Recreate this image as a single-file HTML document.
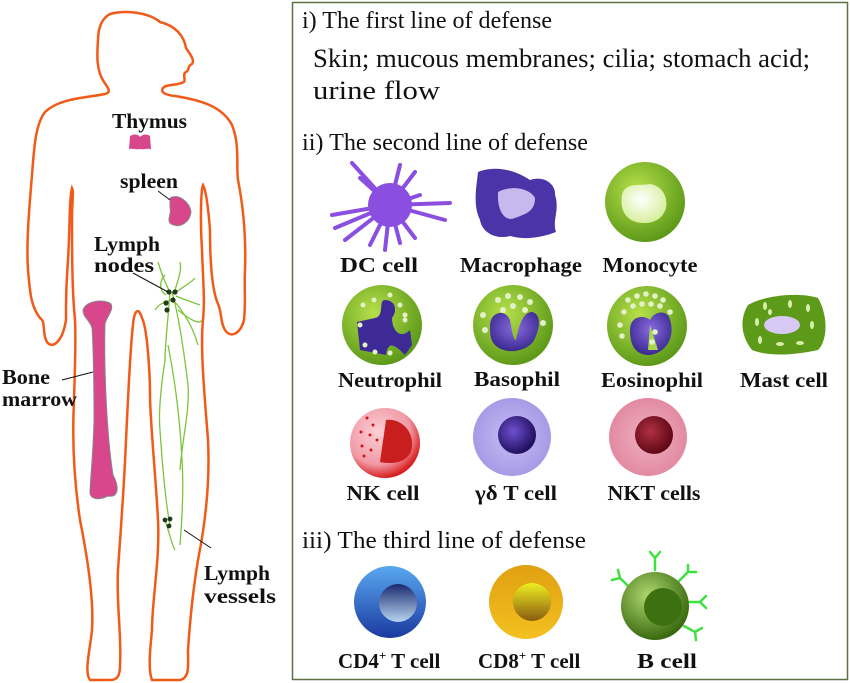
<!DOCTYPE html>
<html><head><meta charset="utf-8"><style>
html,body{margin:0;padding:0;background:#fff;}
svg{display:block;}
.t{font-family:"Liberation Serif",serif;font-size:24px;fill:#111;}
.b{font-family:"Liberation Serif",serif;font-size:21px;font-weight:bold;fill:#111;text-anchor:middle;}
.l{font-family:"Liberation Serif",serif;font-size:21px;font-weight:bold;fill:#111;}
</style></head><body>
<svg width="850" height="683" viewBox="0 0 850 683" xmlns="http://www.w3.org/2000/svg">
<defs>
<radialGradient id="gg" cx="40%" cy="35%" r="65%"><stop offset="0" stop-color="#b6e04a"/><stop offset="1" stop-color="#5e9a1a"/></radialGradient>
<radialGradient id="mo" cx="45%" cy="40%" r="60%"><stop offset="0" stop-color="#ffffff"/><stop offset="1" stop-color="#d6ef9c"/></radialGradient>
<radialGradient id="pn" cx="50%" cy="40%" r="60%"><stop offset="0" stop-color="#8a6ae0"/><stop offset="1" stop-color="#3a2a90"/></radialGradient>
<radialGradient id="lav" cx="50%" cy="50%" r="50%"><stop offset="0" stop-color="#c7bdf4"/><stop offset="1" stop-color="#a79ae6"/></radialGradient>
<radialGradient id="pk" cx="50%" cy="50%" r="50%"><stop offset="0" stop-color="#efb1c0"/><stop offset="1" stop-color="#e28aa2"/></radialGradient>
<radialGradient id="nk" cx="40%" cy="35%" r="65%"><stop offset="0" stop-color="#fbd0d4"/><stop offset="0.7" stop-color="#f19aa6"/><stop offset="1" stop-color="#d82020"/></radialGradient>
<linearGradient id="bl" x1="0" y1="0" x2="0" y2="1"><stop offset="0" stop-color="#5aa8f0"/><stop offset="1" stop-color="#1a3aa0"/></linearGradient>
<linearGradient id="bln" x1="0" y1="0" x2="0" y2="1"><stop offset="0" stop-color="#1a2a70"/><stop offset="1" stop-color="#b8d4f0"/></linearGradient>
<linearGradient id="or" x1="0" y1="0" x2="0" y2="1"><stop offset="0" stop-color="#e0a010"/><stop offset="1" stop-color="#f4c020"/></linearGradient>
<linearGradient id="orn" x1="0" y1="0" x2="0" y2="1"><stop offset="0" stop-color="#eef020"/><stop offset="1" stop-color="#8a5a10"/></linearGradient>
<radialGradient id="bc" cx="40%" cy="35%" r="65%"><stop offset="0" stop-color="#b0d870"/><stop offset="1" stop-color="#3a6a10"/></radialGradient>
<radialGradient id="dk" cx="40%" cy="40%" r="60%"><stop offset="0" stop-color="#7050d0"/><stop offset="1" stop-color="#201060"/></radialGradient>
<radialGradient id="dr" cx="40%" cy="40%" r="60%"><stop offset="0" stop-color="#b03040"/><stop offset="1" stop-color="#600818"/></radialGradient>
</defs>

<path d="M110,14 C125,10 148,12 160,22 C176,26 184,36 186,48 C190,54 195,60 192,64 C187,66 190,70 186,72 C182,74 186,80 184,82 C176,86 166,84 163,88 C160,92 165,95 175,96 C200,100 222,106 232,125 C240,145 236,165 238,180 C244,210 246,240 245,270 C244,290 246,300 244,320 C240,335 230,338 225,330 C220,322 222,312 218,304 C212,290 210,260 210,230 C208,205 206,190 203,185 C201,190 200,220 202,250 C203,280 205,300 203,320 C200,350 205,400 208,440 C210,480 206,520 198,560 C193,590 190,620 188,650 C188,665 190,678 180,680 L152,680 C148,670 150,650 152,630 C152,600 160,560 158,520 C156,480 150,420 150,395 C150,380 148,330 142,318 C138,305 134,312 133,325 C130,350 128,400 126,440 C124,490 120,540 118,570 C116,600 122,640 120,665 C120,675 118,680 110,680 L90,680 C84,672 90,650 92,630 C94,600 88,560 80,520 C74,480 72,440 74,400 C75,370 76,340 75,320 C72,290 72,250 72,220 C72,200 74,192 72,188 C69,200 70,230 68,260 C66,290 66,300 66,320 C62,345 50,350 46,340 C42,330 46,322 40,318 C30,305 30,290 28,270 C26,240 30,200 32,175 C34,150 35,125 45,112 C60,98 85,98 105,94 C112,92 108,88 104,82 C96,70 97,55 98,40 C98,28 102,18 110,14 Z" fill="none" stroke="#f25a1a" stroke-width="2.5"/>

<path d="M130,136 C135,133 139,135 140,137 C142,135 146,133 150,136 L151,149 C146,148 144,150 140,149 C136,150 133,148 129,149 Z" fill="#d8468c"/>
<path d="M170,198 C178,193 190,202 191,212 C190,222 180,229 171,224 C166,220 172,214 170,208 Z" fill="#d8468c" stroke="#888" stroke-width="1"/>
<path d="M83,310 C86,300 105,299 111,304 C114,310 107,316 105,324 C104,360 106,430 113,475 C120,488 118,498 108,496 C100,500 92,500 90,494 C90,480 93,460 94,420 C94,380 93,340 92,328 C90,320 83,318 83,310 Z" fill="#d8468c" stroke="#888" stroke-width="1"/>
<g stroke="#7cc43c" stroke-width="1.3" fill="none">
<path d="M158,262 C162,275 166,285 170,292 C168,320 165,345 165,360 C162,380 158,410 160,430 C162,460 165,500 170,525"/>
<path d="M172,292 C180,320 185,360 188,385 C190,410 182,440 180,470"/>
<path d="M175,290 C178,280 182,270 180,262"/>
<path d="M176,292 C186,285 192,282 195,278"/>
<path d="M176,296 C185,300 192,302 200,305"/>
<path d="M172,300 C160,303 158,306 155,310"/>
<path d="M175,302 C190,320 195,335 198,345"/>
<path d="M168,345 C175,380 180,420 182,460 C184,490 182,520 180,545"/>
<path d="M166,295 C158,290 160,280 165,275"/>
<path d="M178,310 C190,320 200,325 202,320"/>
<path d="M165,520 C170,535 172,545 175,550"/>
</g>
<g fill="#233a1a"><circle cx="169" cy="292" r="2.6"/><circle cx="175" cy="292" r="2.6"/><circle cx="173" cy="300" r="2.6"/><circle cx="166" cy="303" r="2.6"/><circle cx="167" cy="310" r="2.6"/><circle cx="165" cy="520" r="2.4"/><circle cx="170" cy="519" r="2.4"/><circle cx="169" cy="526" r="2.4"/></g>
<g stroke="#111" stroke-width="1"><line x1="158" y1="191" x2="170" y2="200"/><line x1="133" y1="273" x2="168" y2="292"/><line x1="62" y1="380" x2="93" y2="372"/><line x1="184" y1="530" x2="211" y2="548"/></g>
<text class="l" x="112" y="128" textLength="75" lengthAdjust="spacingAndGlyphs">Thymus</text>
<text class="l" x="120" y="188" textLength="58" lengthAdjust="spacingAndGlyphs">spleen</text>
<text class="l" x="94" y="251" textLength="66" lengthAdjust="spacingAndGlyphs">Lymph</text>
<text class="l" x="94" y="272" textLength="60" lengthAdjust="spacingAndGlyphs">nodes</text>
<text class="l" x="2" y="384" textLength="48" lengthAdjust="spacingAndGlyphs">Bone</text>
<text class="l" x="2" y="406" textLength="75" lengthAdjust="spacingAndGlyphs">marrow</text>
<text class="l" x="204" y="580" textLength="66" lengthAdjust="spacingAndGlyphs">Lymph</text>
<text class="l" x="204" y="603" textLength="72" lengthAdjust="spacingAndGlyphs">vessels</text>

<rect x="292.5" y="2.5" width="555" height="677" fill="none" stroke="#5f7044" stroke-width="1.5"/>
<text class="t" x="302" y="28" textLength="250" lengthAdjust="spacingAndGlyphs">i) The first line of defense</text>
<text class="t" x="313" y="67" style="font-size:26px" textLength="497" lengthAdjust="spacingAndGlyphs">Skin; mucous membranes; cilia; stomach acid;</text>
<text class="t" x="313" y="99" style="font-size:26px" textLength="127" lengthAdjust="spacingAndGlyphs">urine flow</text>
<text class="t" x="302" y="150" textLength="286" lengthAdjust="spacingAndGlyphs">ii) The second line of defense</text>
<text class="t" x="302" y="548" textLength="284" lengthAdjust="spacingAndGlyphs">iii) The third line of defense</text>

<g fill="#8a4fe0" stroke="#8a4fe0" stroke-width="4" stroke-linecap="round">
<circle cx="390" cy="205" r="22" stroke="none"/>
<path d="M390,205 L352,163 M390,205 L400,165 M390,205 L415,172 M390,205 L450,203 M390,205 L445,220 M390,205 L332,215 M390,205 L335,228 M390,205 L345,240 M390,205 L370,245 M390,205 L385,250 M390,205 L400,243 M390,205 L415,238 M390,205 L360,178 M390,205 L420,195" fill="none"/>
</g>
<path d="M478,172 C495,165 515,170 530,180 C545,175 556,185 555,195 C560,210 552,220 556,232 C540,238 525,240 510,236 C495,240 482,232 480,220 C473,205 476,190 478,172 Z" fill="#4b34a8"/>
<path d="M498,192 C510,185 530,188 535,198 C535,212 525,214 515,218 C505,222 497,212 498,192 Z" fill="#c9b8ee"/>
<circle cx="645" cy="202" r="40" fill="url(#gg)"/>
<path d="M622,195 C625,182 640,186 650,184 C662,186 668,196 666,208 C662,222 648,225 636,222 C624,218 620,208 622,195 Z" fill="url(#mo)"/>
<text class="b" x="379" y="272" textLength="78" lengthAdjust="spacingAndGlyphs">DC cell</text>
<text class="b" x="521" y="272" textLength="122" lengthAdjust="spacingAndGlyphs">Macrophage</text>
<text class="b" x="650" y="272" textLength="95" lengthAdjust="spacingAndGlyphs">Monocyte</text>

<circle cx="382" cy="325" r="40" fill="url(#gg)"/>
<path d="M357,322 L375,318 C385,316 378,300 385,300 C395,300 398,310 392,318 C392,330 400,340 410,330 L412,345 L405,355 C395,345 388,340 386,355 L360,350 Z" fill="#3e2a96"/>
<g fill="#e4f0c8"><circle cx="363" cy="305" r="2.5"/><circle cx="374" cy="300" r="2.5"/><circle cx="390" cy="295" r="2.5"/><circle cx="400" cy="305" r="2.5"/><circle cx="360" cy="325" r="2.5"/><circle cx="405" cy="320" r="2.5"/><circle cx="365" cy="345" r="2.5"/><circle cx="375" cy="352" r="2.5"/><circle cx="390" cy="353" r="2.5"/><circle cx="405" cy="315" r="2.5"/></g>
<circle cx="513" cy="325" r="40" fill="url(#gg)"/>
<path d="M490,326 C490,312 505,308 510,320 C512,330 513,340 516,340 C518,330 522,312 532,312 C542,314 540,330 533,342 C525,352 505,355 495,345 C490,340 490,333 490,326 Z" fill="url(#pn)"/>
<g fill="#e4f0c8"><circle cx="498" cy="300" r="3"/><circle cx="508" cy="296" r="3"/><circle cx="520" cy="297" r="3"/><circle cx="530" cy="302" r="3"/><circle cx="513" cy="306" r="3"/><circle cx="503" cy="310" r="3"/><circle cx="525" cy="310" r="3"/><circle cx="483" cy="315" r="3"/><circle cx="543" cy="323" r="3"/><circle cx="485" cy="330" r="3"/></g>
<circle cx="647" cy="326" r="40" fill="url(#gg)"/>
<path d="M630,330 C630,315 645,315 650,320 C655,310 668,310 670,320 C675,335 668,352 650,355 C635,355 630,345 630,330 Z" fill="url(#pn)"/>
<path d="M650,325 L658,350 L648,350 Z" fill="#a8d84a"/>
<g fill="#e4f0c8"><circle cx="628" cy="300" r="2.8"/><circle cx="637" cy="296" r="2.8"/><circle cx="646" cy="294" r="2.8"/><circle cx="655" cy="296" r="2.8"/><circle cx="663" cy="300" r="2.8"/><circle cx="633" cy="306" r="2.8"/><circle cx="642" cy="304" r="2.8"/><circle cx="651" cy="304" r="2.8"/><circle cx="660" cy="306" r="2.8"/><circle cx="624" cy="312" r="2.8"/><circle cx="670" cy="312" r="2.8"/><circle cx="620" cy="325" r="2.8"/><circle cx="622" cy="336" r="2.8"/><circle cx="655" cy="332" r="2.8"/><circle cx="652" cy="342" r="2.8"/></g>
<path d="M748,305 C765,295 800,292 818,298 C828,315 828,340 818,350 C795,355 770,357 752,350 C740,335 740,318 748,305 Z" fill="#5e9a1a"/>
<ellipse cx="782" cy="325" rx="18" ry="9" fill="#d8c8f4"/>
<g fill="#d6eeaa"><ellipse cx="765" cy="306" rx="2" ry="4"/><ellipse cx="790" cy="304" rx="2" ry="4"/><ellipse cx="808" cy="308" rx="2" ry="4"/><ellipse cx="757" cy="322" rx="2" ry="4"/><ellipse cx="812" cy="325" rx="2" ry="4"/><ellipse cx="760" cy="340" rx="2" ry="4"/><ellipse cx="780" cy="344" rx="4" ry="2"/><ellipse cx="800" cy="343" rx="4" ry="2"/><ellipse cx="770" cy="312" rx="2" ry="3"/></g>
<text class="b" x="390" y="387" textLength="104" lengthAdjust="spacingAndGlyphs">Neutrophil</text>
<text class="b" x="517" y="386" textLength="86" lengthAdjust="spacingAndGlyphs">Basophil</text>
<text class="b" x="652" y="387" textLength="102" lengthAdjust="spacingAndGlyphs">Eosinophil</text>
<text class="b" x="784" y="387" textLength="88" lengthAdjust="spacingAndGlyphs">Mast cell</text>

<circle cx="385" cy="443" r="35" fill="url(#nk)"/>
<path d="M386,420 C400,418 413,430 412,445 C412,458 400,466 380,462 Z" fill="#c81e1e"/>
<g fill="#d01818"><circle cx="367" cy="418" r="1.5"/><circle cx="373" cy="425" r="1.5"/><circle cx="361" cy="432" r="1.5"/><circle cx="370" cy="435" r="1.5"/><circle cx="377" cy="440" r="1.5"/><circle cx="362" cy="446" r="1.5"/><circle cx="371" cy="450" r="1.5"/><circle cx="364" cy="456" r="1.5"/></g>
<circle cx="512" cy="437" r="39" fill="url(#lav)"/>
<circle cx="517" cy="435" r="19" fill="url(#dk)"/>
<circle cx="648" cy="437" r="39" fill="url(#pk)"/>
<circle cx="654" cy="435" r="19" fill="url(#dr)"/>
<text class="b" x="383" y="500" textLength="73" lengthAdjust="spacingAndGlyphs">NK cell</text>
<text class="b" x="516" y="500" textLength="82" lengthAdjust="spacingAndGlyphs">γδ T cell</text>
<text class="b" x="654" y="500" textLength="93" lengthAdjust="spacingAndGlyphs">NKT cells</text>

<circle cx="390" cy="602" r="36" fill="url(#bl)"/>
<circle cx="398" cy="603" r="19" fill="url(#bln)"/>
<circle cx="526" cy="602" r="37" fill="url(#or)"/>
<circle cx="532" cy="602" r="19" fill="url(#orn)"/>
<g stroke="#3ee03e" stroke-width="2.5" fill="none" stroke-linecap="round">
<path d="M630,588 L620,578 M620,578 L618,570 M620,578 L612,580"/>
<path d="M655,570 L655,558 M655,558 L650,552 M655,558 L660,552"/>
<path d="M678,582 L688,572 M688,572 L688,565 M688,572 L696,572"/>
<path d="M688,602 L700,602 M700,602 L706,596 M700,602 L706,608"/>
<path d="M684,626 L695,632 M695,632 L702,628 M695,632 L696,640"/>
</g>
<circle cx="655" cy="606" r="34" fill="url(#bc)"/>
<circle cx="663" cy="607" r="19" fill="#3c7010"/>
<text class="b" x="338" y="668" style="text-anchor:start">CD4<tspan font-size="13" dy="-8">+</tspan><tspan dy="8"> T cell</tspan></text>
<text class="b" x="478" y="668" style="text-anchor:start">CD8<tspan font-size="13" dy="-8">+</tspan><tspan dy="8"> T cell</tspan></text>
<text class="b" x="667" y="668" textLength="60" lengthAdjust="spacingAndGlyphs">B cell</text>
</svg>
</body></html>
